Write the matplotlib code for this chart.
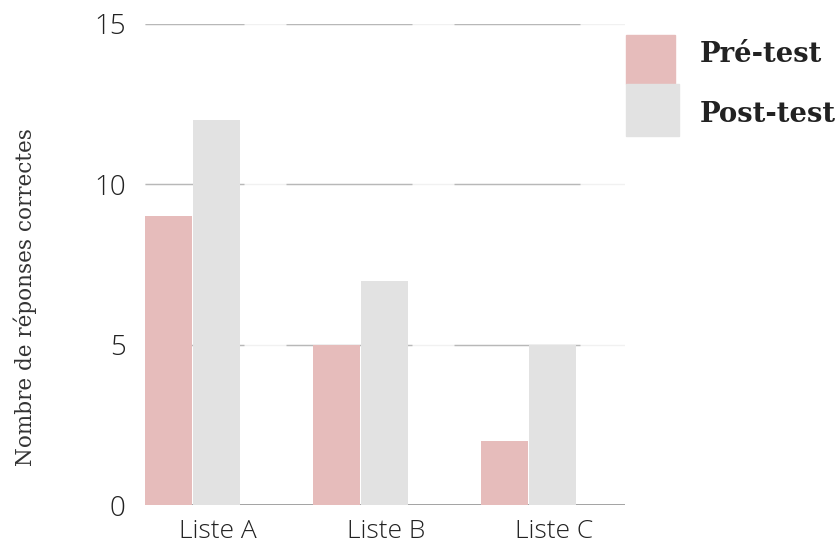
import matplotlib
matplotlib.use("Agg")
import matplotlib.pyplot as plt
from matplotlib.patches import Rectangle
import numpy as np

categories = ["Liste A", "Liste B", "Liste C"]
series_names = ["Pré-test", "Post-test"]
pre_test = [9, 5, 2]
post_test = [12, 7, 5]
y_ticks = [0, 5, 10, 15]

colors = ["#e6bcbb", "#e2e2e2"]

W, H = 838, 550
fig = plt.figure(figsize=(W / 100, H / 100), dpi=100)
ax = fig.add_axes([145 / W, (H - 505) / H, (625 - 145) / W, (505 - 24) / H])

x = np.arange(len(categories))
bw = 0.28
gap = 0.008
ax.bar(x, pre_test, width=bw, align="edge", color=colors[0], zorder=3, linewidth=0)
ax.bar(x + bw + gap, post_test, width=bw, align="edge", color=colors[1], zorder=3, linewidth=0)

ax.set_xlim(0, 2.857)
ax.set_ylim(0, 15)

# grid: faint full line + solid segments per category
for yt in y_ticks[1:]:
    ax.axhline(yt, color="#f1f1f1", lw=1, zorder=1)
    for i in range(len(categories)):
        ax.hlines(yt, max(i - 0.16, 0), i + 0.59, color="#b8b8b8", lw=1, zorder=2)
ax.axhline(0, color="#8a8a8a", lw=1.1, zorder=2)

for s in ax.spines.values():
    s.set_visible(False)

ax.set_yticks(y_ticks)
ax.set_yticklabels([str(v) for v in y_ticks])
ax.set_xticks(x + 0.435)
ax.set_xticklabels(categories)
ax.tick_params(axis="both", length=0, labelcolor="#222222")
ax.tick_params(axis="y", pad=14, labelsize=20)
ax.tick_params(axis="x", pad=10, labelsize=19)
for lab in ax.get_xticklabels() + ax.get_yticklabels():
    lab.set_family("Open Sans")
    lab.set_fontweight("light")

fig.text(25 / W, 1 - 297 / H, "Nombre de réponses correctes", rotation=90,
         ha="center", va="center", fontsize=15.5, family="DejaVu Serif", color="#333333")

# legend
leg_boxes = [(626, 35, 49, 49), (626, 84, 53, 52)]
leg_text_y = [55, 114]
for (lx, ly, lw, lh), name, c, ty in zip(leg_boxes, series_names, colors, leg_text_y):
    fig.patches.append(Rectangle((lx / W, 1 - (ly + lh) / H), lw / W, lh / H,
                                 transform=fig.transFigure, color=c, zorder=5))
    fig.text(700 / W, 1 - ty / H, name, ha="left", va="center", fontsize=19.8,
             fontweight="bold", family="DejaVu Serif", color="#222222")

fig.savefig("out.png", dpi=100)
